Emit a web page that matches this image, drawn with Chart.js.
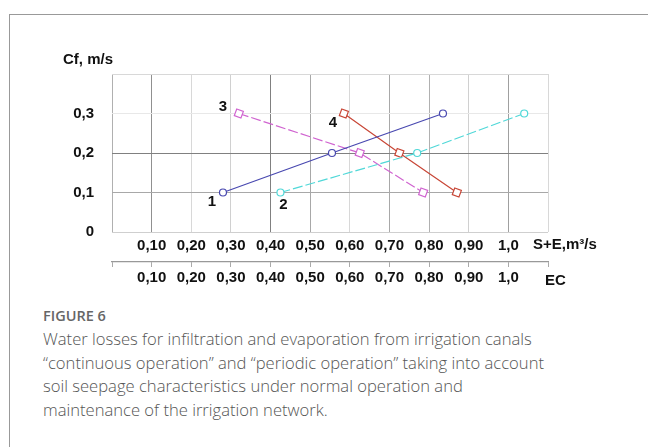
<!DOCTYPE html>
<html>
<head>
<meta charset="utf-8">
<script src="https://cdn.jsdelivr.net/npm/chart.js@4/dist/chart.umd.min.js"></script>
<style>
  body { margin: 0; width: 648px; height: 447px; background: #fff; position: relative; overflow: hidden; }
  #frameTop { position: absolute; left: 9px; top: 14px; width: 639px; height: 0; border-top: 1.5px solid #999; }
  #frameLeft { position: absolute; left: 9px; top: 14px; width: 0; height: 433px; border-left: 1.5px solid #999; }
  #myChart { position: absolute; left: 0; top: 0; }
  #caption { position: absolute; left: 43px; top: 305px; font-family: "Open Sans", sans-serif; white-space: nowrap; }
  #caption .fig { font-size: 14.5px; font-weight: 600; color: #666; line-height: 22px; }
  #caption .txt { font-size: 16.6px; font-weight: 300; color: #555; line-height: 23.5px; margin-top: 0px; }
</style>
</head>
<body>
<div id="frameTop"></div>
<div id="frameLeft"></div>
<canvas id="myChart" width="648" height="300"></canvas>
<div id="caption">
  <div class="fig">FIGURE 6</div>
  <div class="txt">Water losses for infiltration and evaporation from irrigation canals<br>“continuous operation” and “periodic operation” taking into account<br>soil seepage characteristics under normal operation and<br>maintenance of the irrigation network.</div>
</div>
<script>
// values
var labels = ['1', '2', '3', '4'];
var line1X = [0.28, 0.555, 0.835];
var line1Y = [0.1, 0.2, 0.3];
var line2X = [0.425, 0.77, 1.04];
var line2Y = [0.1, 0.2, 0.3];
var line3X = [0.32, 0.625, 0.785];
var line3Y = [0.3, 0.2, 0.1];
var line4X = [0.585, 0.725, 0.87];
var line4Y = [0.3, 0.2, 0.1];
var xTicks = [0.1, 0.2, 0.3, 0.4, 0.5, 0.6, 0.7, 0.8, 0.9, 1.0];
var yTicks = [0, 0.1, 0.2, 0.3];

var xGridShade = ['#b0b0b0', '#909090', '#d8d8d8', '#d0d0d0', '#808080', '#a8a8a8',
                  '#d8d8d8', '#a8a8a8', '#b0b0b0', '#d0d0d0', '#a0a0a0', '#d8d8d8'];
var yGridShade = ['#cfcfcf', '#a8a8a8', '#808080', '#e8e8e8', '#d8d8d8'];

function pts(xs, ys) {
  return xs.map(function(x, i) { return {x: x, y: ys[i]}; });
}

function fmtX(v) {
  var n = Math.round(v * 10);
  if (xTicks.indexOf(n / 10) < 0) return '';
  if (n === 10) return '1,0';
  return '0,' + n + '0';
}

function fmtY(v) {
  var n = Math.round(v * 10);
  if (yTicks.indexOf(n / 10) < 0) return '';
  if (n === 0) return '0';
  return '0,' + n;
}

var tickFont = {family: 'Liberation Sans, Arial, sans-serif', size: 15, weight: 'bold'};

// number labels next to each line + axis names
var textPlugin = {
  id: 'texts',
  afterDatasetsDraw: function(chart) {
    var ctx = chart.ctx;
    var xs = chart.scales.x, x2 = chart.scales.x2, ca = chart.chartArea;
    ctx.save();
    ctx.fillStyle = '#111';
    ctx.font = 'bold 15px Liberation Sans, Arial, sans-serif';
    ctx.textAlign = 'center';
    ctx.textBaseline = 'middle';
    var offs = [[-11, 9], [3, 12], [-16, -7], [-11, 9]];
    labels.forEach(function(lb, i) {
      var p = chart.getDatasetMeta(i).data[0];
      ctx.fillText(lb, p.x + offs[i][0], p.y + offs[i][1]);
    });
    ctx.textAlign = 'left';
    ctx.fillText('Cf, m/s', ca.left - 49, ca.top - 14);
    ctx.fillText('S+E,m³/s', xs.getPixelForValue(1.1) - 15, xs.top + 13);
    ctx.fillText('EC', x2.getPixelForValue(1.1) - 3, x2.top + 19);
    ctx.restore();
  }
};

var ctx = document.getElementById('myChart').getContext('2d');
var myChart = new Chart(ctx, {
  type: 'line',
  data: {
    datasets: [{
      data: pts(line1X, line1Y),
      borderColor: '#4848b0',
      borderWidth: 1.2,
      pointStyle: 'circle',
      pointRadius: 3.5,
      pointBorderWidth: 1.2,
      pointBackgroundColor: '#fff'
    }, {
      data: pts(line2X, line2Y),
      borderColor: '#50d8d8',
      borderWidth: 1.2,
      borderDash: [10, 3],
      pointStyle: 'circle',
      pointRadius: 3.5,
      pointBorderWidth: 1.2,
      pointBackgroundColor: '#fff'
    }, {
      data: pts(line3X, line3Y),
      borderColor: '#d064d0',
      borderWidth: 1.2,
      borderDash: [10, 3],
      pointStyle: 'rect',
      pointRotation: 20,
      pointRadius: 5,
      pointBorderWidth: 1.2,
      pointBackgroundColor: '#fff'
    }, {
      data: pts(line4X, line4Y),
      borderColor: '#c84636',
      borderWidth: 1.2,
      pointStyle: 'rect',
      pointRotation: 20,
      pointRadius: 5,
      pointBorderWidth: 1.2,
      pointBackgroundColor: '#fff'
    }]
  },
  options: {
    responsive: false,
    animation: false,
    devicePixelRatio: 1,
    layout: {padding: {left: 0, right: 100, top: 74, bottom: 0}},
    plugins: {legend: {display: false}, tooltip: {enabled: false}},
    scales: {
      x: {
        type: 'linear', position: 'bottom', weight: 0,
        min: 0, max: 1.1,
        afterFit: function(s) { s.height = 30; },
        ticks: {stepSize: 0.1, callback: fmtX, font: tickFont, color: '#111', padding: 5, maxRotation: 0, autoSkip: false},
        grid: {drawTicks: false, lineWidth: 1, color: function(c) { return xGridShade[c.index] || '#ccc'; }},
        border: {display: false}
      },
      x2: {
        type: 'linear', position: 'bottom', weight: 1,
        min: 0, max: 1.1,
        afterFit: function(s) { s.height = 38; },
        ticks: {stepSize: 0.1, callback: fmtX, font: tickFont, color: '#111', padding: 2, maxRotation: 0, autoSkip: false},
        grid: {drawOnChartArea: false, drawTicks: true, tickLength: 5, color: '#aaa'},
        border: {display: true, color: '#999', width: 1.2}
      },
      y: {
        type: 'linear', min: 0, max: 0.4,
        afterFit: function(s) { s.width = 112; },
        ticks: {stepSize: 0.1, callback: fmtY, font: tickFont, color: '#111', padding: 18},
        grid: {drawTicks: false, lineWidth: 1, color: function(c) { return yGridShade[c.index] || '#ccc'; }},
        border: {display: false}
      }
    }
  },
  plugins: [textPlugin]
});
</script>
</body>
</html>
